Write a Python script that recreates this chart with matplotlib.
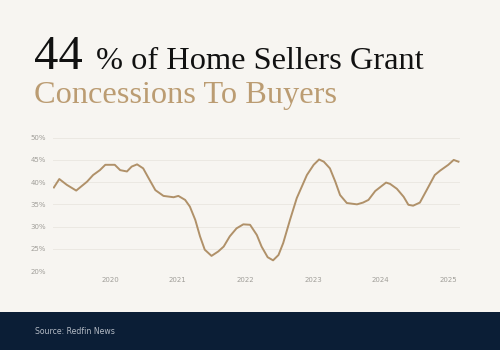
import matplotlib.pyplot as plt
from matplotlib.patches import Rectangle

# share of home sellers giving concessions (Redfin)
years = [2019.17, 2019.25, 2019.36, 2019.50, 2019.66, 2019.75, 2019.85, 2019.93,
         2020.07, 2020.15, 2020.25, 2020.32, 2020.40, 2020.49, 2020.57, 2020.67,
         2020.79, 2020.94, 2021.01, 2021.11, 2021.18, 2021.26, 2021.33, 2021.40,
         2021.50, 2021.60, 2021.68, 2021.77, 2021.87, 2021.97, 2022.07, 2022.17,
         2022.24, 2022.33, 2022.41, 2022.49, 2022.56, 2022.66, 2022.76, 2022.91,
         2023.01, 2023.09, 2023.16, 2023.25, 2023.33, 2023.40, 2023.50, 2023.65,
         2023.74, 2023.82, 2023.92, 2024.08, 2024.14, 2024.24, 2024.34, 2024.41,
         2024.48, 2024.58, 2024.68, 2024.80, 2024.88, 2025.00, 2025.08, 2025.15]
share = [38.8, 40.7, 39.4, 38.1, 40.1, 41.6, 42.7, 43.9,
         43.9, 42.7, 42.4, 43.5, 44.0, 43.1, 40.9, 38.2,
         36.9, 36.6, 36.9, 36.0, 34.5, 31.5, 27.8, 24.8,
         23.4, 24.4, 25.5, 27.8, 29.6, 30.5, 30.4, 28.1,
         25.5, 23.1, 22.4, 23.6, 26.3, 31.5, 36.4, 41.6,
         43.9, 45.1, 44.6, 43.1, 40.1, 37.1, 35.3, 35.0,
         35.4, 36.0, 38.0, 39.9, 39.6, 38.5, 36.7, 34.9,
         34.7, 35.4, 38.2, 41.6, 42.6, 43.9, 45.0, 44.6]
yticks = [20, 25, 30, 35, 40, 45, 50]
xticks = [2020, 2021, 2022, 2023, 2024, 2025]

bg = "#f7f5f1"
gold = "#b09169"
navy = "#0b1e36"

fig = plt.figure(figsize=(5, 3.5), dpi=100, facecolor=bg)

# footer band
fig.patches.append(Rectangle((0, 0), 1, 38 / 350, transform=fig.transFigure,
                             facecolor=navy, edgecolor="none", zorder=0))
fig.text(35 / 500, 1 - 331 / 350, "Source: Redfin News", color="#b3bac4",
         fontsize=5.6, family="DejaVu Sans", va="center")

# title
serif = "Liberation Serif"
fig.text(34 / 500, 1 - 69 / 350, "44", fontsize=35, family=serif, color="#111111",
         va="baseline")
fig.text(96 / 500, 1 - 69 / 350, "% of Home Sellers Grant", fontsize=23.3,
         family=serif, color="#111111", va="baseline")
fig.text(34 / 500, 1 - 102.5 / 350, "Concessions To Buyers", fontsize=23.3,
         family=serif, color="#bb9c72", va="baseline")

ax = fig.add_axes([53 / 500, 1 - 271 / 350, 407 / 500, 133.3 / 350])
ax.set_facecolor(bg)
ax.plot(years, share, color=gold, lw=1.4, solid_joinstyle="round")
ax.set_xlim(2019.157, 2025.173)
ax.set_ylim(20, 50)
ax.set_yticks(yticks)
ax.set_yticklabels([f"{v}%" for v in yticks])
ax.set_xticks(xticks)
ax.set_xticklabels([str(v) for v in xticks])
ax.grid(axis="y", color="#ebe8e2", lw=0.7)
ax.set_axisbelow(True)
for s in ax.spines.values():
    s.set_visible(False)
ax.tick_params(length=0, labelsize=5, labelcolor="#a09e99", pad=4)
ax.tick_params(axis="y", pad=5)

fig.savefig("out.png", dpi=100, facecolor=bg)
